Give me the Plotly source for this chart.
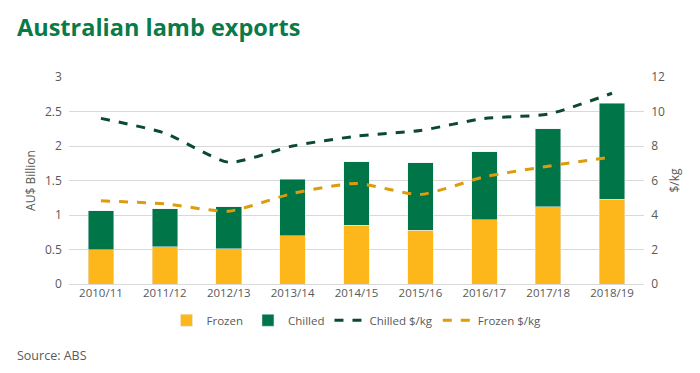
import plotly.graph_objects as go

years = ["2010/11", "2011/12", "2012/13", "2013/14", "2014/15", "2015/16", "2016/17", "2017/18", "2018/19"]
frozen = [0.50, 0.54, 0.51, 0.70, 0.85, 0.78, 0.93, 1.12, 1.23]
total = [1.06, 1.09, 1.12, 1.52, 1.77, 1.76, 1.92, 2.25, 2.62]
chilled = [round(t - f, 2) for t, f in zip(total, frozen)]
chilled_kg = [9.6, 8.75, 7.06, 8.0, 8.57, 8.9, 9.6, 9.85, 11.06]
frozen_kg = [4.82, 4.65, 4.22, 5.25, 5.83, 5.19, 6.21, 6.83, 7.37]

YELLOW = "#fdb71a"
GREEN = "#007548"
DKGREEN = "#0b4a2e"
ORANGE = "#dc9c0c"
TXT = "#595959"

fig = go.Figure()
fig.add_trace(go.Bar(x=years, y=frozen, name="Frozen", marker_color=YELLOW, width=0.4))
fig.add_trace(go.Bar(x=years, y=chilled, name="Chilled", marker_color=GREEN, width=0.4))
fig.add_trace(go.Scatter(x=years, y=chilled_kg, name="Chilled $/kg", yaxis="y2", mode="lines",
                         line=dict(color=DKGREEN, width=3, dash="dash", shape="spline", smoothing=0.6)))
fig.add_trace(go.Scatter(x=years, y=frozen_kg, name="Frozen $/kg", yaxis="y2", mode="lines",
                         line=dict(color=ORANGE, width=3, dash="dash", shape="spline", smoothing=0.6)))

fig.update_layout(
    width=692, height=365,
    margin=dict(l=61, r=56, t=69, b=89, autoexpand=False),
    paper_bgcolor="white", plot_bgcolor="white",
    barmode="stack",
    font=dict(family="Open Sans, sans-serif", size=12, color=TXT),
    xaxis=dict(showgrid=False, showline=False, ticks="", tickfont=dict(size=11.5, color=TXT)),
    yaxis=dict(range=[0, 3], dtick=0.5, gridcolor="#d9d9d9", gridwidth=1, zeroline=True,
               zerolinecolor="#d9d9d9", zerolinewidth=1, showline=False,
               tickfont=dict(size=12, color=TXT), ticksuffix="  ",
               title=dict(text="AU$ Billion", font=dict(size=12, color=TXT), standoff=6)),
    yaxis2=dict(range=[0, 12], dtick=2, overlaying="y", side="right", showgrid=False,
                zeroline=False, tickfont=dict(size=12, color=TXT), tickprefix="  ",
                title=dict(text="$/kg", font=dict(size=12, color=TXT), standoff=6)),
    legend=dict(orientation="h", x=0.5, xanchor="center", y=-0.105, yanchor="top",
                font=dict(size=11.5, color=TXT), traceorder="normal", itemwidth=30),
    showlegend=True,
)

fig.add_annotation(text="<b>Australian lamb exports</b>", xref="paper", yref="paper",
                   x=-54/575, y=1 + 50/207, xanchor="left", yanchor="middle", showarrow=False,
                   font=dict(size=23.5, color="#0a7a48", family="Open Sans, sans-serif"))
fig.add_annotation(text="Source: ABS", xref="paper", yref="paper",
                   x=-54/575, y=-71/207, xanchor="left", yanchor="middle", showarrow=False,
                   font=dict(size=12.5, color=TXT))

fig.write_html("out.html")
